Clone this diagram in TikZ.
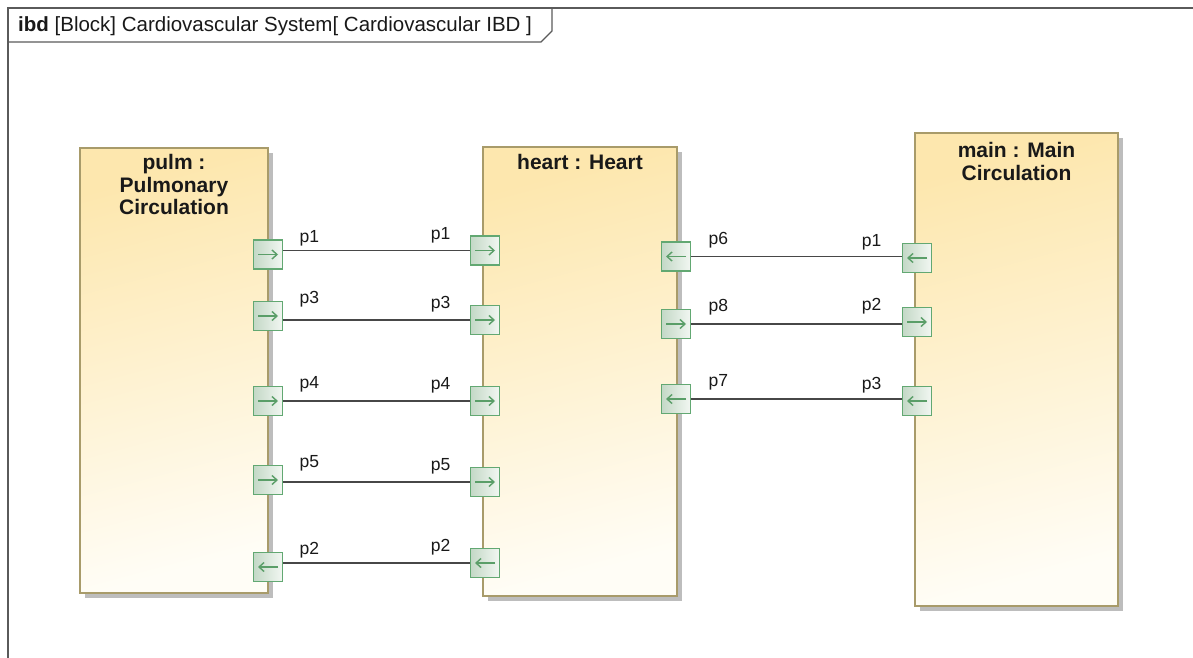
\documentclass[tikz,border=0pt]{standalone}
\usepackage{fontspec}
\setmainfont{Liberation Sans}
\usetikzlibrary{arrows.meta,shadows,calc}
\definecolor{framecol}{HTML}{5A5A5A}
\definecolor{blockborder}{HTML}{A89B6A}
\definecolor{blocktop}{HTML}{FDE7AE}
\definecolor{blockbot}{HTML}{FFFDF6}
\definecolor{portborder}{HTML}{62A872}
\definecolor{portdark}{HTML}{C3D8C6}
\definecolor{portlight}{HTML}{F2F7F2}
\definecolor{portarrowcol}{HTML}{5A9E68}
\definecolor{conncol}{HTML}{474747}
\definecolor{shadowcol}{HTML}{BDBDBD}
\newcommand{\portright}[3]{%
  \node[portbox] (#1) at (#2,#3) {};
  \draw[portarrow] ([xshift=-10pt]#1.center) -- ([xshift=10pt]#1.center);}
\newcommand{\portleft}[3]{%
  \node[portbox] (#1) at (#2,#3) {};
  \draw[portarrow] ([xshift=10pt]#1.center) -- ([xshift=-10pt]#1.center);}
\tikzset{
  blockbox/.style={draw=blockborder, line width=1.5pt, inner sep=0pt,
    top color=blocktop, bottom color=blockbot, shading angle=15,
    drop shadow={shadow xshift=4.5pt, shadow yshift=-4.5pt, fill=shadowcol, opacity=1}},
  blockname/.style={font=\fontsize{21}{22.5}\selectfont\bfseries, align=center, inner sep=0pt, anchor=north, text=black!90},
  portbox/.style={draw=portborder, line width=1.8pt, minimum size=29pt, inner sep=0pt,
    left color=portdark, right color=portlight},
  portarrow/.style={draw=portarrowcol, line width=1.4pt, -{Straight Barb[length=5pt,width=9pt]}},
  conn/.style={draw=conncol, line width=1.6pt},
  plabel/.style={font=\fontsize{17.5}{20}\selectfont, inner sep=0pt, text=black!90},
}
\begin{document}
\begin{tikzpicture}[x=1pt,y=-1pt]
\useasboundingbox (0,0) rectangle (1193,658);
% frame
\draw[framecol, line width=1.5pt] (8,660) -- (8,8) -- (1195,8);
\draw[framecol, line width=1.3pt] (8,42) -- (541,42) -- (552,31) -- (552,8);
\node[anchor=base west, inner sep=0pt, font=\fontsize{20.5}{22}\selectfont, text=black!90] (title) at (18,32)
  {\textbf{ibd} [Block] Cardiovascular System[ Cardiovascular IBD ]};
% blocks
\node[blockbox, minimum width=188pt, minimum height=445pt] (pulm) at (174,370.5) {};
\node[blockbox, minimum width=194pt, minimum height=449pt] (heart) at (580,371.5) {};
\node[blockbox, minimum width=203pt, minimum height=473pt] (main) at (1016.5,369.5) {};
\node[blockname] (pulmname) at ([yshift=-7pt]pulm.north) {pulm :\\Pulmonary\\Circulation};
\node[blockname] (heartname) at ([yshift=-8pt]heart.north) {heart : Heart};
\node[blockname] (mainname) at ([yshift=-10pt]main.north) {main : Main\\Circulation};
% ports pulm
\portright{pA1}{268}{254.5}
\portright{pA3}{268}{316}
\portright{pA4}{268}{401}
\portright{pA5}{268}{480}
\portleft{pA2}{268}{567}
% ports heart left
\portright{hL1}{485}{250.5}
\portright{hL3}{485}{320}
\portright{hL4}{485}{401}
\portright{hL5}{485}{482}
\portleft{hL2}{485}{563}
% ports heart right
\portleft{hR6}{676}{256.5}
\portright{hR8}{676}{324}
\portleft{hR7}{676}{399}
% ports main
\portleft{mP1}{917}{258}
\portright{mP2}{917}{322}
\portleft{mP3}{917}{401}
% connectors
\draw[conn] (pA1.east |- hL1) -- (hL1.west);
\draw[conn] (pA3.east |- hL3) -- (hL3.west);
\draw[conn] (pA4.east |- hL4) -- (hL4.west);
\draw[conn] (pA5.east |- hL5) -- (hL5.west);
\draw[conn] (pA2.east |- hL2) -- (hL2.west);
\draw[conn] (hR6.east) -- (hR6 -| mP1.west);
\draw[conn] (hR8.east) -- (hR8 -| mP2.west);
\draw[conn] (hR7.east) -- (hR7 -| mP3.west);
% labels
\foreach \p/\t in {pA1/p1,pA3/p3,pA4/p4,pA5/p5,pA2/p2}
  \node[plabel, anchor=base west] (lab-\p) at ([xshift=16pt,yshift=-3pt]\p.north east) {\t};
\foreach \p/\t in {hL1/p1,hL3/p3,hL4/p4,hL5/p5,hL2/p2}
  \node[plabel, anchor=base east] (lab-\p) at ([xshift=-19pt,yshift=-4pt]\p.north west) {\t};
\foreach \p/\t in {hR6/p6,hR8/p8,hR7/p7}
  \node[plabel, anchor=base west] (lab-\p) at ([xshift=17pt,yshift=-3pt]\p.north east) {\t};
\foreach \p/\t in {mP1/p1,mP2/p2,mP3/p3}
  \node[plabel, anchor=base east] (lab-\p) at ([xshift=-20pt,yshift=-4pt]\p.north west) {\t};
\end{tikzpicture}
\end{document}
